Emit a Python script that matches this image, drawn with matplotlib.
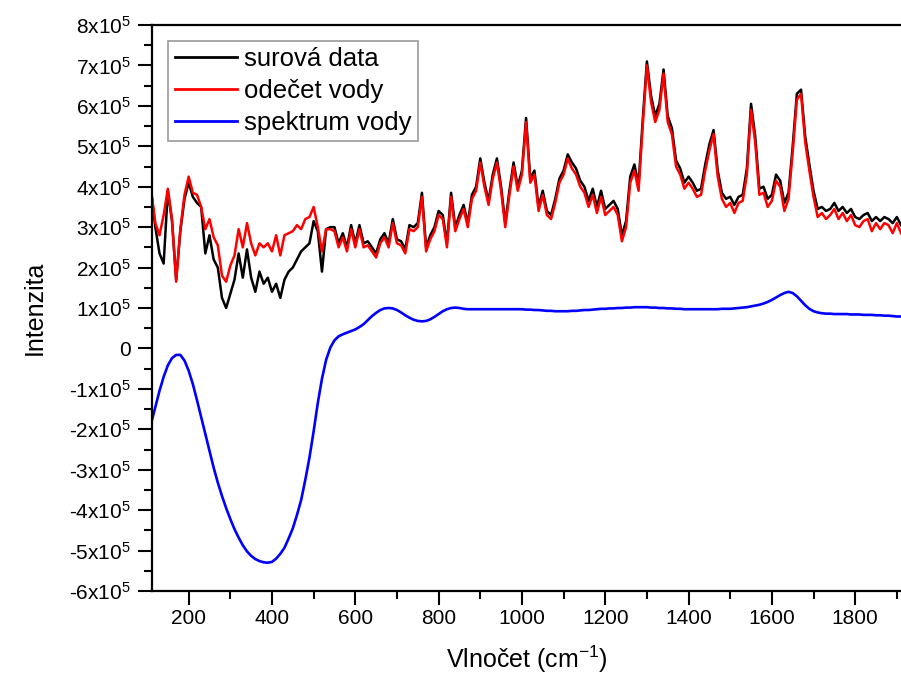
import matplotlib
matplotlib.use("Agg")
import matplotlib.pyplot as plt
from matplotlib.ticker import MultipleLocator
import numpy as np

plt.rcParams['font.family'] = ['Liberation Sans', 'DejaVu Sans']
plt.rcParams['mathtext.fontset'] = 'custom'
plt.rcParams['mathtext.rm'] = 'Liberation Sans'
plt.rcParams['mathtext.default'] = 'regular'

# wavenumber grid (cm^-1), one value every 10 cm^-1 from 110 to 1910
wavenumber = np.arange(110, 1911, 10)

# intensities in units of 1e5
raw = [
    3.9, 3.0, 2.35, 2.1, 3.9, 3.15, 1.7, 2.9, 3.7, 4.1,          # 110-200
    3.75, 3.6, 3.5, 2.35, 2.8, 2.2, 2.0, 1.25, 1.0, 1.35,        # 210-300
    1.7, 2.35, 1.75, 2.45, 1.75, 1.4, 1.9, 1.6, 1.75, 1.4,       # 310-400
    1.6, 1.25, 1.7, 1.9, 2.0, 2.2, 2.4, 2.5, 2.6, 3.15,          # 410-500
    2.9, 1.9, 2.95, 3.0, 3.0, 2.6, 2.85, 2.5, 3.05, 2.6,         # 510-600
    3.05, 2.6, 2.65, 2.5, 2.35, 2.7, 2.85, 2.6, 3.2, 2.7,        # 610-700
    2.65, 2.45, 3.05, 3.0, 3.1, 3.85, 2.5, 2.8, 3.0, 3.4,        # 710-800
    3.3, 2.6, 3.85, 3.0, 3.3, 3.55, 3.1, 3.8, 4.0, 4.7,          # 810-900
    4.1, 3.65, 4.3, 4.7, 4.0, 3.1, 3.9, 4.6, 4.0, 4.4,           # 910-1000
    5.7, 4.2, 4.4, 3.5, 3.9, 3.4, 3.3, 3.7, 4.2, 4.4,            # 1010-1100
    4.8, 4.6, 4.45, 4.15, 4.0, 3.65, 3.95, 3.5, 3.9, 3.45,       # 1110-1200
    3.55, 3.65, 3.45, 2.8, 3.15, 4.25, 4.55, 4.05, 5.65, 7.1,    # 1210-1300
    6.25, 5.75, 6.05, 6.9, 5.75, 5.45, 4.65, 4.45, 4.1, 4.25,    # 1310-1400
    4.1, 3.9, 3.95, 4.55, 5.05, 5.4, 4.4, 3.85, 3.7, 3.75,       # 1410-1500
    3.55, 3.75, 3.8, 4.45, 6.05, 5.25, 3.95, 4.0, 3.7, 3.8,      # 1510-1600
    4.3, 4.15, 3.6, 3.85, 5.0, 6.3, 6.4, 5.25, 4.55, 3.9,        # 1610-1700
    3.45, 3.5, 3.4, 3.45, 3.6, 3.4, 3.5, 3.35, 3.45, 3.25,       # 1710-1800
    3.2, 3.3, 3.35, 3.15, 3.25, 3.15, 3.25, 3.2, 3.1, 3.25,      # 1810-1900
    3.05,                                                        # 1910
]

subtracted = [
    3.9, 3.1, 2.8, 3.3, 3.95, 3.2, 1.65, 2.95, 3.8, 4.25,        # 110-200
    3.85, 3.8, 3.5, 2.95, 3.2, 2.75, 2.55, 1.8, 1.65, 2.05,      # 210-300
    2.3, 2.95, 2.5, 3.1, 2.6, 2.3, 2.6, 2.5, 2.6, 2.4,           # 310-400
    2.8, 2.3, 2.8, 2.85, 2.9, 3.05, 2.95, 3.2, 3.25, 3.5,        # 410-500
    3.0, 2.4, 2.95, 2.95, 2.9, 2.5, 2.75, 2.4, 2.95, 2.5,        # 510-600
    2.95, 2.5, 2.55, 2.4, 2.25, 2.6, 2.75, 2.5, 3.1, 2.6,        # 610-700
    2.55, 2.35, 2.95, 2.9, 3.0, 3.75, 2.4, 2.7, 2.9, 3.3,        # 710-800
    3.2, 2.5, 3.75, 2.9, 3.2, 3.45, 3.0, 3.7, 3.9, 4.6,          # 810-900
    4.0, 3.55, 4.2, 4.6, 3.9, 3.0, 3.8, 4.5, 3.9, 4.3,           # 910-1000
    5.6, 4.1, 4.3, 3.4, 3.8, 3.3, 3.2, 3.6, 4.1, 4.3,            # 1010-1100
    4.7, 4.45, 4.3, 4.0, 3.85, 3.5, 3.8, 3.35, 3.75, 3.3,        # 1110-1200
    3.4, 3.5, 3.3, 2.65, 3.0, 4.1, 4.4, 3.9, 5.5, 7.0,           # 1210-1300
    6.1, 5.6, 5.9, 6.8, 5.6, 5.3, 4.5, 4.3, 3.95, 4.1,           # 1310-1400
    3.95, 3.75, 3.8, 4.4, 4.9, 5.3, 4.25, 3.7, 3.5, 3.6,         # 1410-1500
    3.35, 3.6, 3.65, 4.3, 5.9, 5.1, 3.8, 3.85, 3.5, 3.65,        # 1510-1600
    4.15, 4.0, 3.4, 3.7, 4.85, 6.15, 6.3, 5.1, 4.4, 3.75,        # 1610-1700
    3.25, 3.35, 3.2, 3.3, 3.45, 3.2, 3.35, 3.15, 3.3, 3.05,      # 1710-1800
    3.0, 3.15, 3.2, 2.9, 3.1, 2.95, 3.1, 3.05, 2.85, 3.1,        # 1810-1900
    2.85,                                                        # 1910
]

water = [
    -1.85, -1.45, -1.05, -0.7, -0.42, -0.24, -0.16, -0.16, -0.3, -0.55,    # 110-200
    -0.88, -1.28, -1.7, -2.12, -2.55, -2.95, -3.32, -3.65, -3.95, -4.22,   # 210-300
    -4.47, -4.68, -4.87, -5.02, -5.13, -5.21, -5.26, -5.29, -5.3, -5.28,   # 310-400
    -5.2, -5.08, -4.93, -4.7, -4.45, -4.12, -3.75, -3.25, -2.7, -2.05,     # 410-500
    -1.35, -0.75, -0.28, 0.02, 0.2, 0.3, 0.35, 0.39, 0.43, 0.47,           # 510-600
    0.53, 0.6, 0.7, 0.8, 0.88, 0.95, 0.99, 1.0, 0.99, 0.95,                # 610-700
    0.89, 0.82, 0.76, 0.71, 0.68, 0.67, 0.68, 0.72, 0.78, 0.85,            # 710-800
    0.92, 0.97, 1.0, 1.01, 1.0, 0.98, 0.97, 0.97, 0.97, 0.97,              # 810-900
    0.97, 0.97, 0.97, 0.97, 0.97, 0.97, 0.97, 0.97, 0.97, 0.97,            # 910-1000
    0.96, 0.96, 0.95, 0.95, 0.94, 0.93, 0.93, 0.92, 0.92, 0.92,            # 1010-1100
    0.92, 0.93, 0.93, 0.94, 0.95, 0.95, 0.96, 0.97, 0.98, 0.98,            # 1110-1200
    0.99, 0.99, 1.0, 1.0, 1.01, 1.01, 1.02, 1.02, 1.02, 1.02,              # 1210-1300
    1.01, 1.01, 1.0, 1.0, 0.99, 0.99, 0.98, 0.98, 0.97, 0.97,              # 1310-1400
    0.97, 0.97, 0.97, 0.97, 0.97, 0.97, 0.97, 0.98, 0.98, 0.98,            # 1410-1500
    0.99, 1.0, 1.01, 1.02, 1.04, 1.06, 1.08, 1.11, 1.15, 1.2,              # 1510-1600
    1.26, 1.32, 1.37, 1.4, 1.37, 1.29, 1.18, 1.07, 0.98, 0.92,             # 1610-1700
    0.89, 0.87, 0.86, 0.86, 0.85, 0.85, 0.85, 0.85, 0.84, 0.84,            # 1710-1800
    0.84, 0.83, 0.83, 0.83, 0.82, 0.82, 0.81, 0.81, 0.8, 0.79,             # 1810-1900
    0.79,                                                                  # 1910
]

series_names = ["surová data", "odečet vody", "spektrum vody"]
ytick_values = list(range(-6, 9))
ytick_labels = ["0" if v == 0 else "%dx10$^{5}$" % v for v in ytick_values]

fig = plt.figure(figsize=(9.01, 6.77), dpi=100)
ax = fig.add_axes([152 / 901, 86 / 677, 749 / 901, 566 / 677])

scale = 1e5
ax.plot(wavenumber, np.array(raw) * scale, color='black', lw=1.8, label=series_names[0])
ax.plot(wavenumber, np.array(subtracted) * scale, color='#ff0000', lw=1.8, label=series_names[1])
ax.plot(wavenumber, np.array(water) * scale, color='#0000ff', lw=1.9, label=series_names[2])

ax.set_xlim(112, 1910)
ax.set_ylim(-6e5, 8e5)
ax.xaxis.set_major_locator(MultipleLocator(200))
ax.xaxis.set_minor_locator(MultipleLocator(100))
ax.set_yticks([v * scale for v in ytick_values])
ax.set_yticklabels(ytick_labels)
ax.yaxis.set_minor_locator(MultipleLocator(0.5e5))

ax.tick_params(which='both', direction='out', width=1.5, top=False, right=False)
ax.tick_params(which='major', length=10)
ax.tick_params(which='minor', length=6)
ax.tick_params(axis='x', labelsize=15, pad=3)
ax.tick_params(axis='y', labelsize=15, pad=5)

for side in ['left', 'bottom', 'top']:
    ax.spines[side].set_linewidth(1.6)
ax.spines['right'].set_visible(False)

ax.set_xlabel("Vlnočet (cm$^{-1}$)", fontsize=18, labelpad=11)
ax.set_ylabel("Intenzita", fontsize=18, labelpad=16)

leg = ax.legend(loc='upper left', bbox_to_anchor=(0.022, 0.972), fontsize=18.5,
                frameon=True, fancybox=False, handlelength=2.4, handletextpad=0.3,
                labelspacing=0.3, borderpad=0.25, borderaxespad=0)
leg.get_frame().set_edgecolor('#808080')
leg.get_frame().set_linewidth(1.2)
for line in leg.get_lines():
    line.set_linewidth(2)

fig.savefig("out.png", dpi=100)
